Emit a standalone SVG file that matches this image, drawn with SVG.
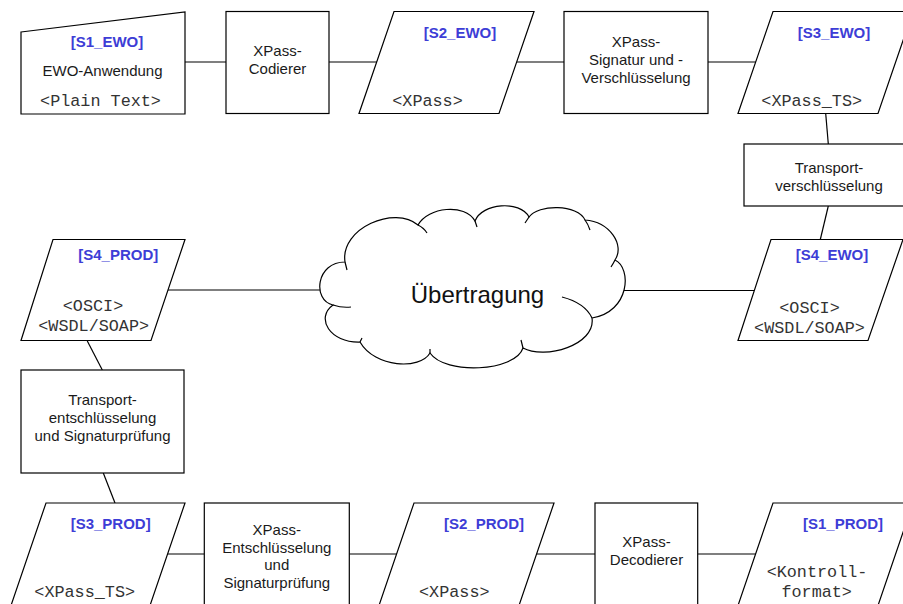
<svg xmlns="http://www.w3.org/2000/svg" width="903" height="604" viewBox="0 0 903 604">
<style>
.shape{fill:#fff;stroke:#000;stroke-width:1.2}
.line{fill:none;stroke:#000;stroke-width:1.2}
.lbl{font-family:"Liberation Sans",Arial,sans-serif;font-weight:bold;font-size:15px;fill:#3d3dd6;text-anchor:middle}
.txt{font-family:"Liberation Sans",Arial,sans-serif;font-size:15px;fill:#1a1a1a;text-anchor:middle}
.mono{font-family:"Liberation Mono","Courier New",monospace;font-size:16.8px;fill:#333;text-anchor:middle}
.big{font-family:"Liberation Sans",Arial,sans-serif;font-size:24px;fill:#111;text-anchor:middle}
</style>
<rect x="0" y="0" width="903" height="604" fill="#fff"/>
<g id="connectors">
<line class="line" x1="185" y1="62" x2="226" y2="62"/>
<line class="line" x1="329" y1="62" x2="377" y2="62"/>
<line class="line" x1="516.7" y1="62" x2="564" y2="62"/>
<line class="line" x1="708" y1="62" x2="756" y2="62"/>
<line class="line" x1="825.7" y1="113.5" x2="828.3" y2="144"/>
<line class="line" x1="828.3" y1="206" x2="820.3" y2="239.5"/>
<line class="line" x1="168" y1="290" x2="320" y2="290"/>
<line class="line" x1="624" y1="290.5" x2="754.5" y2="290.5"/>
<line class="line" x1="87.3" y1="341" x2="102.3" y2="370"/>
<line class="line" x1="103.3" y1="473" x2="115" y2="503"/>
<line class="line" x1="167.5" y1="554" x2="204.3" y2="554"/>
<line class="line" x1="349.3" y1="554" x2="397" y2="554"/>
<line class="line" x1="536.7" y1="554" x2="595" y2="554"/>
<line class="line" x1="697.7" y1="554" x2="756" y2="554"/>
</g>
<g id="S1_EWO">
<polygon class="shape" points="21,32 185,12 185,114 21,114"/>
<text class="lbl" x="107" y="47">[S1_EWO]</text>
<text class="txt" x="102.5" y="75.5">EWO-Anwendung</text>
<text class="mono" x="100.5" y="106">&lt;Plain Text&gt;</text>
</g>
<g id="XPass_Codierer">
<rect class="shape" x="226" y="11.5" width="103" height="102"/>
<text class="txt" x="277.5" y="56">XPass-</text>
<text class="txt" x="277.5" y="74">Codierer</text>
</g>
<g id="S2_EWO">
<polygon class="shape" points="394,11.5 534,11.5 499,113.5 359,113.5"/>
<text class="lbl" x="460" y="38">[S2_EWO]</text>
<text class="mono" x="427.5" y="106">&lt;XPass&gt;</text>
</g>
<g id="XPass_Signatur">
<rect class="shape" x="564" y="11.5" width="144" height="102"/>
<text class="txt" x="636" y="47">XPass-</text>
<text class="txt" x="636" y="65">Signatur und -</text>
<text class="txt" x="636" y="83">Verschlüsselung</text>
</g>
<g id="S3_EWO">
<polygon class="shape" points="773,11.5 913,11.5 878,113.5 738,113.5"/>
<text class="lbl" x="834" y="38">[S3_EWO]</text>
<text class="mono" x="811.7" y="106">&lt;XPass_TS&gt;</text>
</g>
<g id="Transportverschluesselung">
<rect class="shape" x="744" y="144" width="170" height="62"/>
<text class="txt" x="829" y="172.5">Transport-</text>
<text class="txt" x="829" y="190.5">verschlüsselung</text>
</g>
<g id="S4_EWO">
<polygon class="shape" points="771,239.5 903,239.5 868,340.5 738,340.5"/>
<text class="lbl" x="832" y="259.5">[S4_EWO]</text>
<text class="mono" x="809.5" y="313">&lt;OSCI&gt;</text>
<text class="mono" x="809.5" y="332.5">&lt;WSDL/SOAP&gt;</text>
</g>
<g id="Uebertragung">
<path class="shape" d="M333,305 C312,300 316,262 345,262 C340,228 395,205 418,225 C428,207 465,203 475,221 C482,203 520,200 529,217 C538,204 578,204 585,220 C610,222 625,245 615,260 C632,268 630,312 592,318 C596,345 545,360 523,348 C515,372 445,375 430,353 C420,370 375,368 360,342 C330,343 315,318 333,305 Z"/>
<path class="line" d="M333,305 Q342,308 351,307 M345,262 Q346,266 347,270 M418,225 Q424,228 427,233 M475,221 Q476,224 477,227 M529,217 Q527,220 525,223 M585,220 Q588,224 590,230 M615,260 Q613,264 611,267 M562,297 Q585,303 592,318 M523,348 Q522,344 521,340 M430,353 L430,349 M360,342 Q361,340 362,338"/>
<text class="big" x="477.5" y="303">Übertragung</text>
</g>
<g id="S4_PROD">
<polygon class="shape" points="53,239.5 185,239.5 151,340.5 21,340.5"/>
<text class="lbl" x="118.3" y="259.5">[S4_PROD]</text>
<text class="mono" x="93" y="311">&lt;OSCI&gt;</text>
<text class="mono" x="93.7" y="330.5">&lt;WSDL/SOAP&gt;</text>
</g>
<g id="Transportentschluesselung">
<rect class="shape" x="21" y="370" width="163" height="103"/>
<text class="txt" x="102.5" y="405">Transport-</text>
<text class="txt" x="102.5" y="423">entschlüsselung</text>
<text class="txt" x="102.5" y="441">und Signaturprüfung</text>
</g>
<g id="S3_PROD">
<polygon class="shape" points="46,503 185,503 150,605.5 11,605.5"/>
<text class="lbl" x="110.7" y="529">[S3_PROD]</text>
<text class="mono" x="84.7" y="596.7">&lt;XPass_TS&gt;</text>
</g>
<g id="XPass_Entschluesselung">
<rect class="shape" x="204.3" y="503" width="145" height="103"/>
<text class="txt" x="276.8" y="535">XPass-</text>
<text class="txt" x="276.8" y="552.7">Entschlüsselung</text>
<text class="txt" x="276.8" y="570.4">und</text>
<text class="txt" x="276.8" y="588.1">Signaturprüfung</text>
</g>
<g id="S2_PROD">
<polygon class="shape" points="414,503 554,503 519,605.5 379,605.5"/>
<text class="lbl" x="484" y="529">[S2_PROD]</text>
<text class="mono" x="454.3" y="596.7">&lt;XPass&gt;</text>
</g>
<g id="XPass_Decodierer">
<rect class="shape" x="595" y="503" width="102.7" height="103"/>
<text class="txt" x="646.5" y="546.7">XPass-</text>
<text class="txt" x="646.5" y="565">Decodierer</text>
</g>
<g id="S1_PROD">
<polygon class="shape" points="773,503 913,503 878,605.5 738,605.5"/>
<text class="lbl" x="843" y="529">[S1_PROD]</text>
<text class="mono" x="817" y="576.7">&lt;Kontroll-</text>
<text class="mono" x="816.7" y="596.7">format&gt;</text>
</g>
</svg>
